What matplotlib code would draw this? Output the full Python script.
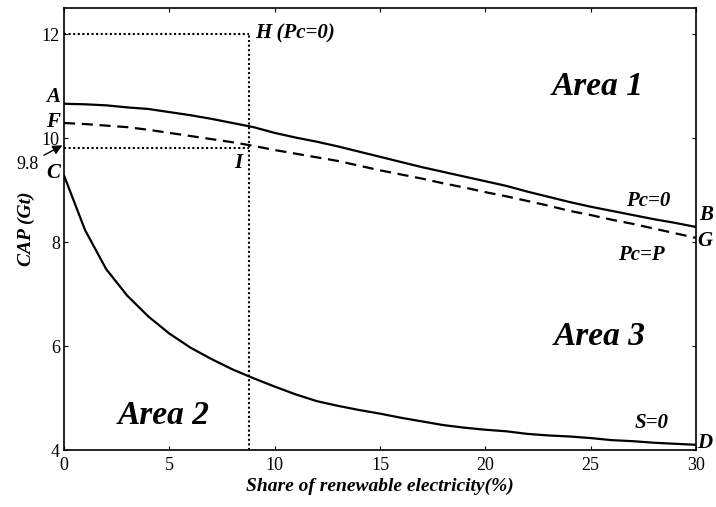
import numpy as np
import matplotlib
matplotlib.use("Agg")
import matplotlib.pyplot as plt

plt.rcParams["font.family"] = ["Liberation Serif", "DejaVu Serif"]

# ── Data ──
share = list(range(0, 31))
cap_pc0 = [10.66, 10.65, 10.63, 10.59, 10.56, 10.50, 10.44, 10.37, 10.29, 10.21,
           10.10, 10.01, 9.93, 9.84, 9.74, 9.64, 9.54, 9.44, 9.35, 9.26,
           9.17, 9.08, 8.97, 8.87, 8.77, 8.68, 8.60, 8.52, 8.44, 8.37, 8.29]
cap_pcp = [10.29, 10.27, 10.24, 10.21, 10.16, 10.10, 10.04, 9.98, 9.92, 9.85,
           9.77, 9.70, 9.63, 9.56, 9.47, 9.38, 9.30, 9.22, 9.13, 9.05,
           8.96, 8.88, 8.79, 8.70, 8.60, 8.52, 8.43, 8.35, 8.26, 8.17, 8.08]
cap_s0 = [9.28, 8.23, 7.48, 6.97, 6.57, 6.24, 5.97, 5.75, 5.55, 5.38,
          5.22, 5.07, 4.94, 4.85, 4.77, 4.70, 4.62, 4.55, 4.48, 4.43,
          4.39, 4.36, 4.31, 4.28, 4.26, 4.23, 4.19, 4.17, 4.14, 4.12, 4.10]
x_ref = 8.8      # share where H / I are read
y_h = 12.0       # H (Pc=0)
y_i = 9.8        # I
x_ticks = [0, 5, 10, 15, 20, 25, 30]
y_ticks = [4, 6, 8, 10, 12]

# ── Plot ──
fig = plt.figure(figsize=(7.16, 5.07), dpi=100)
ax = fig.add_axes([0.0894, 0.1124, 0.8826, 0.8716])

ax.plot(share, cap_pc0, color="black", linewidth=1.6)
ax.plot(share, cap_pcp, color="black", linewidth=1.6, linestyle=(0, (5, 3)))
ax.plot(share, cap_s0, color="black", linewidth=1.6)

dot = dict(color="black", linewidth=1.5, linestyle=(0, (1, 1.2)))
ax.plot([0, x_ref], [y_h, y_h], **dot)
ax.plot([0, x_ref], [y_i, y_i], **dot)
ax.plot([x_ref, x_ref], [4, y_h], **dot)

ax.set_xlim(0, 30)
ax.set_ylim(4, 12.5)
ax.set_xticks(x_ticks)
ax.set_yticks(y_ticks)
ax.tick_params(direction="in", length=3, width=0.8, top=True, right=True,
               labelsize=13, pad=3)
ax.tick_params(axis="x", pad=5)
for s in ax.spines.values():
    s.set_linewidth(1.2)

bi = dict(fontweight="bold", fontstyle="italic")
ax.set_xlabel("Share of renewable electricity(%)", fontsize=14, labelpad=3, **bi)
ax.set_ylabel("CAP (Gt)", fontsize=14, labelpad=5, **bi)

lab = dict(fontsize=15, va="center", clip_on=False, **bi)
ax.text(-0.2, 10.79, "A", ha="right", **lab)
ax.text(-0.2, 10.31, "F", ha="right", **lab)
ax.text(-0.2, 9.33, "C", ha="right", **lab)
ax.text(8.26, 9.52, "I", ha="center", **lab)
ax.text(9.06, 12.02, "H (Pc=0)", ha="left", **lab)
ax.text(26.66, 8.79, "Pc=0", ha="left", **lab)
ax.text(30.15, 8.52, "B", ha="left", **lab)
ax.text(30.04, 8.02, "G", ha="left", **lab)
ax.text(26.29, 7.75, "Pc=P", ha="left", **lab)
ax.text(27.1, 4.52, "S=0", ha="left", **lab)
ax.text(30.04, 4.13, "D", ha="left", **lab)

area = dict(fontsize=24, ha="center", va="center", **bi)
ax.text(25.32, 10.99, "Area 1", **area)
ax.text(4.75, 4.67, "Area 2", **area)
ax.text(25.44, 6.18, "Area 3", **area)

ax.annotate("9.8", xy=(-0.08, 9.86), xytext=(-1.73, 9.5),
            textcoords="data", ha="center", va="center", fontsize=13,
            annotation_clip=False,
            arrowprops=dict(arrowstyle="-|>", color="black", lw=1.0,
                            mutation_scale=14, shrinkA=2, shrinkB=0))

fig.savefig("out.png", dpi=100)
